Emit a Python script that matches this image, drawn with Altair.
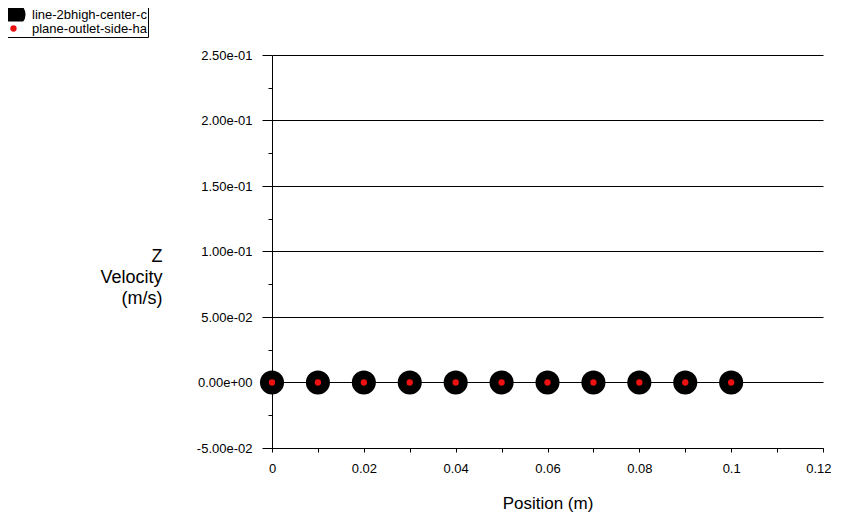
import altair as alt
import pandas as pd

# Series data
series_names = ["line-2bhigh-center-c", "plane-outlet-side-ha"]
positions = [0.0, 0.01, 0.02, 0.03, 0.04, 0.05, 0.06, 0.07, 0.08, 0.09, 0.1]
z_velocity_line = [0.0, 0.0, 0.0, 0.0, 0.0, 0.0, 0.0, 0.0, 0.0, 0.0, 0.0]
z_velocity_plane = [0.0, 0.0, 0.0, 0.0, 0.0, 0.0, 0.0, 0.0, 0.0, 0.0, 0.0]

x_tick_values = [0.0, 0.01, 0.02, 0.03, 0.04, 0.05, 0.06, 0.07, 0.08, 0.09, 0.1, 0.11, 0.12]
y_tick_values = [-0.05, -0.025, 0.0, 0.025, 0.05, 0.075, 0.1, 0.125, 0.15, 0.175, 0.2, 0.225, 0.25]

rows = []
for name, vals in zip(series_names, [z_velocity_line, z_velocity_plane]):
    for p, v in zip(positions, vals):
        rows.append({"series": name, "position": p, "velocity": v})
df = pd.DataFrame(rows)

FONT = "Liberation Sans"

y_major = "abs(round(datum.value*40)) % 2 == 0"
y_label = ("abs(round(datum.value*40)) % 2 == 0 ? "
           "replace(replace(replace(format(datum.value, '.2e'), '\u2212', '-'), 'e-', 'e-0'), 'e+', 'e+0') : ''")
x_label = "round(datum.value*100) % 2 == 0 ? format(datum.value, '~g') : ''"

legend_opts = dict(
    title=None,
    orient="none",
    legendX=-272,
    legendY=-48,
    padding=1,
    strokeColor="black",
    fillColor="white",
    rowPadding=0,
    clipHeight=13,
    labelOffset=6,
    labelFont=FONT,
    labelFontSize=13,
    labelColor="black",
    symbolType="circle",
    symbolOpacity=1,
    symbolStrokeWidth=0,
)

chart = alt.Chart(df).mark_circle(opacity=1, strokeWidth=0).encode(
    x=alt.X(
        "position:Q",
        scale=alt.Scale(domain=[0, 0.12], nice=False, zero=False),
        axis=alt.Axis(
            title="Position (m)",
            values=x_tick_values,
            labelExpr=x_label,
            labelFlush=False,
            labelAlign={"condition": {"test": "datum.value > 0.115", "value": "right"}, "value": "center"},
            labelOffset={"condition": {"test": "datum.value > 0.115", "value": 8}, "value": 0},
            grid=False,
            tickSize=4,
            tickColor="black",
            domainColor="black",
            labelColor="black",
            labelFont=FONT,
            labelFontSize=13,
            labelPadding=10,
            titleFont=FONT,
            titleFontSize=17,
            titleFontWeight="normal",
            titleColor="black",
            titleBaseline="middle",
            titleY=55,
        ),
    ),
    y=alt.Y(
        "velocity:Q",
        scale=alt.Scale(domain=[-0.05, 0.25], nice=False, zero=False),
        axis=alt.Axis(
            title=["Z", "Velocity", "(m/s)"],
            values=y_tick_values,
            labelExpr=y_label,
            grid=True,
            gridColor="black",
            gridOpacity={"condition": {"test": y_major, "value": 1}, "value": 0},
            tickSize={"condition": {"test": y_major, "value": 10}, "value": 4},
            tickColor="black",
            domainColor="black",
            labelColor="black",
            labelFont=FONT,
            labelFontSize=13,
            labelPadding=10,
            titleFont=FONT,
            titleFontSize=18,
            titleFontWeight="normal",
            titleColor="black",
            titleAngle=0,
            titleAlign="right",
            titleBaseline="top",
            titleLineHeight=21,
            titleX=-110,
            titleY=192,
        ),
    ),
    color=alt.Color(
        "series:N",
        scale=alt.Scale(domain=series_names, range=["black", "#ee1111"]),
        legend=alt.Legend(**legend_opts),
    ),
    size=alt.Size(
        "series:N",
        scale=alt.Scale(domain=series_names, range=[580, 40]),
        legend=alt.Legend(**legend_opts),
    ),
    order=alt.Order("series:N", sort="ascending"),
).properties(
    width=551,
    height=393,
    autosize=alt.AutoSizeParams(type="none"),
    padding={"left": 264, "top": 47, "right": 8, "bottom": 64},
    background="white",
).configure_view(
    stroke=None
)

chart.save("out.html", embed_options={"renderer": "svg", "actions": False})
